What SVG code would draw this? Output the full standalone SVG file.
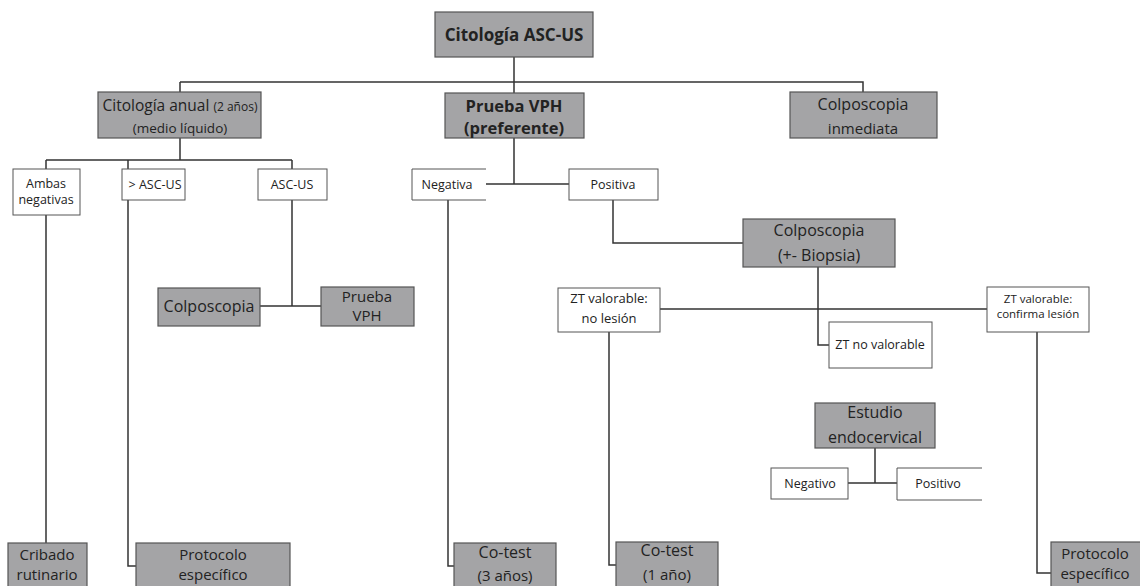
<svg xmlns="http://www.w3.org/2000/svg" width="1140" height="586" viewBox="0 0 1140 586">
<style>
.g{fill:#a4a4a6;stroke:#555;stroke-width:1.2}
.w{fill:#fff;stroke:#555;stroke-width:1}
.t{font-family:"Open Sans","DejaVu Sans",sans-serif;fill:#222;text-anchor:middle}
.b{font-weight:bold}
.m{font-size:16px}
.n{font-size:15px}
.s{font-size:12.5px}
.c{fill:none;stroke:#333;stroke-width:1.5}
</style>
<rect width="1140" height="586" fill="#fff"/>
<g id="connectors">
<path class="c" d="M514 57V93M180 82H863V92M180 82V92"/>
<path class="c" d="M180 138V160M46 160H292M46 160V169M128 160V169M292 160V169"/>
<path class="c" d="M46 215V543M128 200V566H136M292 200V306M260 306H321"/>
<path class="c" d="M514 138V184M486 184H569M448 200V566H454M613 200V243H743"/>
<path class="c" d="M818 267V345H829M660 309H987M609 332V565H616M1037 332V573H1051"/>
<path class="c" d="M875 448V483M848 483H897"/>
</g>
<g id="n-top"><rect class="g" x="435" y="12" width="158" height="45"/><text class="t b" x="514" y="41" font-size="17">Citología ASC-US</text></g>
<g id="n-cito-anual"><rect class="g" x="98" y="92" width="163" height="46"/><text class="t" x="180" y="111" font-size="15.5">Citología anual <tspan font-size="12">(2 años)</tspan></text><text class="t" x="180" y="133" font-size="13.5">(medio líquido)</text></g>
<g id="n-vph"><rect class="g" x="445" y="93" width="139" height="45"/><text class="t b" x="514" y="112" font-size="16.5">Prueba VPH</text><text class="t b" x="514" y="134" font-size="16.5">(preferente)</text></g>
<g id="n-colpo-inm"><rect class="g" x="790" y="92" width="147" height="46"/><text class="t m" x="863" y="110">Colposcopia</text><text class="t n" x="863" y="134">inmediata</text></g>
<g id="n-ambas"><rect class="w" x="13" y="169" width="67" height="46"/><text class="t s" x="46" y="188">Ambas</text><text class="t s" x="46" y="204">negativas</text></g>
<g id="n-mayor"><rect class="w" x="122" y="169" width="63" height="31"/><text class="t s" x="155" y="189">&gt; ASC-US</text></g>
<g id="n-ascus"><rect class="w" x="258" y="169" width="69" height="31"/><text class="t s" x="292" y="189">ASC-US</text></g>
<g id="n-colpo"><rect class="g" x="158" y="288" width="102" height="38"/><text class="t m" x="209" y="312">Colposcopia</text></g>
<g id="n-vph2"><rect class="g" x="321" y="287" width="93" height="39"/><text class="t n" x="367" y="302">Prueba</text><text class="t n" x="367" y="321">VPH</text></g>
<g id="n-negativa"><path class="w" d="M486 169H412V200H486"/><text class="t s" x="447" y="189">Negativa</text></g>
<g id="n-positiva"><rect class="w" x="569" y="169" width="89" height="31"/><text class="t s" x="613" y="189">Positiva</text></g>
<g id="n-colpo-bio"><rect class="g" x="743" y="219" width="152" height="48"/><text class="t m" x="819" y="236">Colposcopia</text><text class="t m" x="819" y="261">(+- Biopsia)</text></g>
<g id="n-zt-no-lesion"><rect class="w" x="558" y="288" width="102" height="44"/><text class="t" x="609" y="303" font-size="13">ZT valorable:</text><text class="t" x="609" y="323" font-size="13">no lesión</text></g>
<g id="n-zt-no-valorable"><rect class="w" x="829" y="322" width="103" height="46"/><text class="t s" x="880" y="349">ZT no valorable</text></g>
<g id="n-zt-confirma"><rect class="w" x="987" y="287" width="102" height="45"/><text class="t" x="1038" y="303" font-size="11.5">ZT valorable:</text><text class="t" x="1038" y="318" font-size="11.5">confirma lesión</text></g>
<g id="n-estudio"><rect class="g" x="815" y="403" width="120" height="45"/><text class="t m" x="875" y="418">Estudio</text><text class="t m" x="875" y="443">endocervical</text></g>
<g id="n-negativo"><rect class="w" x="771" y="468" width="77" height="31"/><text class="t s" x="810" y="488">Negativo</text></g>
<g id="n-positivo"><path class="w" d="M982 468H897V500H982"/><text class="t s" x="938" y="488">Positivo</text></g>
<g id="n-cribado"><rect class="g" x="8" y="543" width="79" height="50"/><text class="t n" x="47" y="560">Cribado</text><text class="t n" x="47" y="580">rutinario</text></g>
<g id="n-protocolo1"><rect class="g" x="136" y="543" width="154" height="50"/><text class="t n" x="213" y="560">Protocolo</text><text class="t n" x="213" y="580">específico</text></g>
<g id="n-cotest3"><rect class="g" x="454" y="543" width="102" height="50"/><text class="t m" x="505" y="558">Co-test</text><text class="t n" x="505" y="581">(3 años)</text></g>
<g id="n-cotest1"><rect class="g" x="616" y="542" width="102" height="50"/><text class="t m" x="667" y="556">Co-test</text><text class="t n" x="667" y="580">(1 año)</text></g>
<g id="n-protocolo2"><rect class="g" x="1051" y="542" width="100" height="50"/><text class="t n" x="1095" y="559">Protocolo</text><text class="t n" x="1095" y="579">específico</text></g>
</svg>
